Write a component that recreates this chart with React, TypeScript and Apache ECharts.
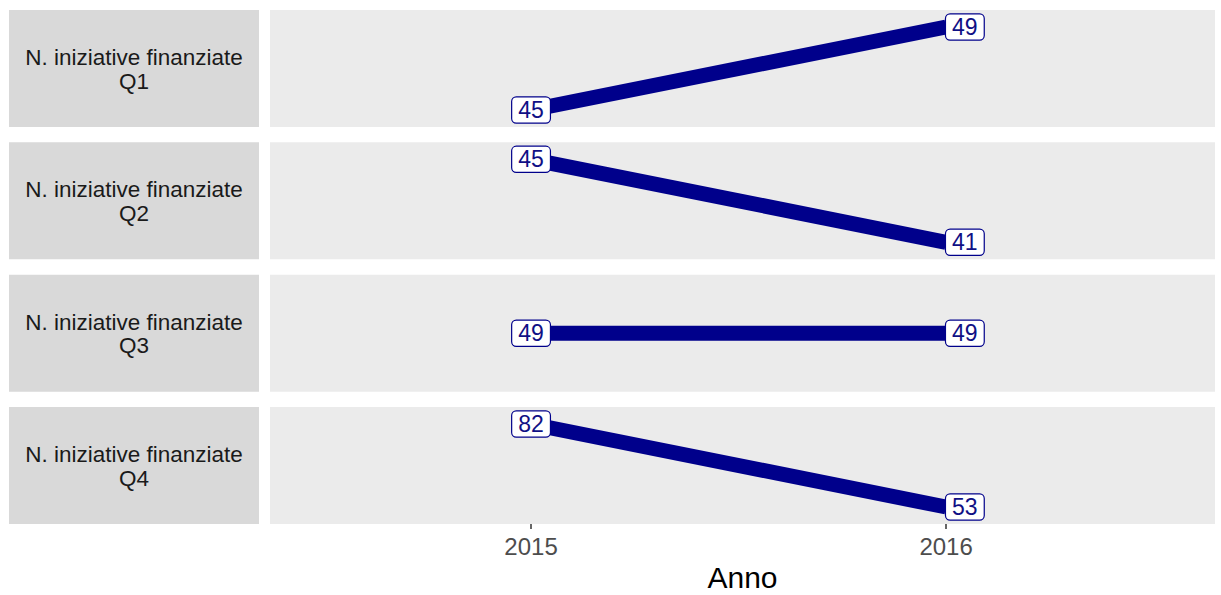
import React, { useEffect, useRef } from "react";
import * as echarts from "echarts";

const years = [2015, 2016];
const quarterNames = ["Q1", "Q2", "Q3", "Q4"];
const stripTitle = "N. iniziative finanziate";
const valuesQ1 = [45, 49];
const valuesQ2 = [45, 41];
const valuesQ3 = [49, 49];
const valuesQ4 = [82, 53];
const panelValues = [valuesQ1, valuesQ2, valuesQ3, valuesQ4];
const xTickValues = [2015, 2016];
const xAxisTitle = "Anno";

const FONT = "'Liberation Sans', Arial, Helvetica, sans-serif";
const NAVY = "#00008B";

export default function App() {
  const ref = useRef<HTMLDivElement>(null);

  useEffect(() => {
    if (!ref.current) return;
    const chart = echarts.init(ref.current, undefined, { renderer: "svg" });

    const panelLeft = 270;
    const panelWidth = 945;
    const panelTops = [10, 142.3, 274.7, 407];
    const panelHeight = 117;
    const stripLeft = 9;
    const stripWidth = 250;

    const grids: any[] = [];
    const xAxes: any[] = [];
    const yAxes: any[] = [];
    const series: any[] = [];
    const graphics: any[] = [];

    panelValues.forEach((vals, i) => {
      const last = i === panelValues.length - 1;
      const lo = Math.min(...vals);
      const hi = Math.max(...vals);
      const range = hi - lo;
      const pad = range === 0 ? 1 : range * 0.205;

      grids.push({
        left: panelLeft,
        top: panelTops[i],
        width: panelWidth,
        height: panelHeight,
        show: true,
        backgroundColor: "#EBEBEB",
        borderWidth: 0,
      });

      xAxes.push({
        type: "value",
        gridIndex: i,
        min: 2014.371,
        max: 2016.648,
        show: last,
        axisLine: { show: false },
        splitLine: { show: false },
        axisTick: {
          show: true,
          customValues: xTickValues,
          length: 5,
          lineStyle: { color: "#333333", width: 1.5 },
        },
        axisLabel: {
          show: true,
          customValues: xTickValues,
          margin: 10,
          fontSize: 24,
          color: "#4D4D4D",
          fontFamily: FONT,
          formatter: (v: number) => String(v),
        },
        name: last ? xAxisTitle : "",
        nameLocation: "middle",
        nameGap: 38,
        nameTextStyle: { fontSize: 30, color: "#000000", fontFamily: FONT },
      });

      yAxes.push({
        type: "value",
        gridIndex: i,
        min: lo - pad,
        max: hi + pad,
        show: false,
        splitLine: { show: false },
      });

      const pts = years.map((y, k) => [y, vals[k]]);

      series.push({
        type: "line",
        xAxisIndex: i,
        yAxisIndex: i,
        data: pts,
        showSymbol: false,
        symbol: "none",
        lineStyle: { width: 15, color: NAVY, cap: "butt" },
        z: 2,
        silent: true,
      });

      series.push({
        type: "scatter",
        xAxisIndex: i,
        yAxisIndex: i,
        symbolSize: 1,
        itemStyle: { color: NAVY, opacity: 1 },
        z: 5,
        silent: true,
        data: pts.map((p, k) => ({
          value: p,
          label: {
            show: true,
            position: [0.5, 0.5],
            align: k === 0 ? "center" : "left",
            verticalAlign: "middle",
            formatter: String(vals[k]),
            fontSize: 23,
            lineHeight: 22,
            fontFamily: FONT,
            color: "#101085",
            textBorderWidth: 0,
            backgroundColor: "#FFFFFF",
            borderColor: NAVY,
            borderWidth: 1.2,
            borderRadius: 4,
            padding: [2, 6, 1, 6],
          },
        })),
      });

      graphics.push({
        type: "rect",
        shape: { x: stripLeft, y: panelTops[i], width: stripWidth, height: panelHeight },
        style: { fill: "#D9D9D9" },
        silent: true,
      });
      const cy = panelTops[i] + panelHeight / 2;
      graphics.push({
        type: "text",
        x: stripLeft + stripWidth / 2,
        y: cy - 11,
        style: {
          text: stripTitle,
          fontSize: 22.5,
          fontFamily: FONT,
          fill: "#1A1A1A",
          align: "center",
          verticalAlign: "middle",
        },
        silent: true,
      });
      graphics.push({
        type: "text",
        x: stripLeft + stripWidth / 2,
        y: cy + 12.5,
        style: {
          text: quarterNames[i],
          fontSize: 22.5,
          fontFamily: FONT,
          fill: "#1A1A1A",
          align: "center",
          verticalAlign: "middle",
        },
        silent: true,
      });
    });

    chart.setOption({
      animation: false,
      backgroundColor: "#FFFFFF",
      grid: grids,
      xAxis: xAxes,
      yAxis: yAxes,
      series,
      graphic: graphics,
    });

    return () => chart.dispose();
  }, []);

  return (
    <div
      ref={ref}
      style={{ position: "fixed", left: 0, top: 0, width: 1221, height: 595 }}
    />
  );
}
